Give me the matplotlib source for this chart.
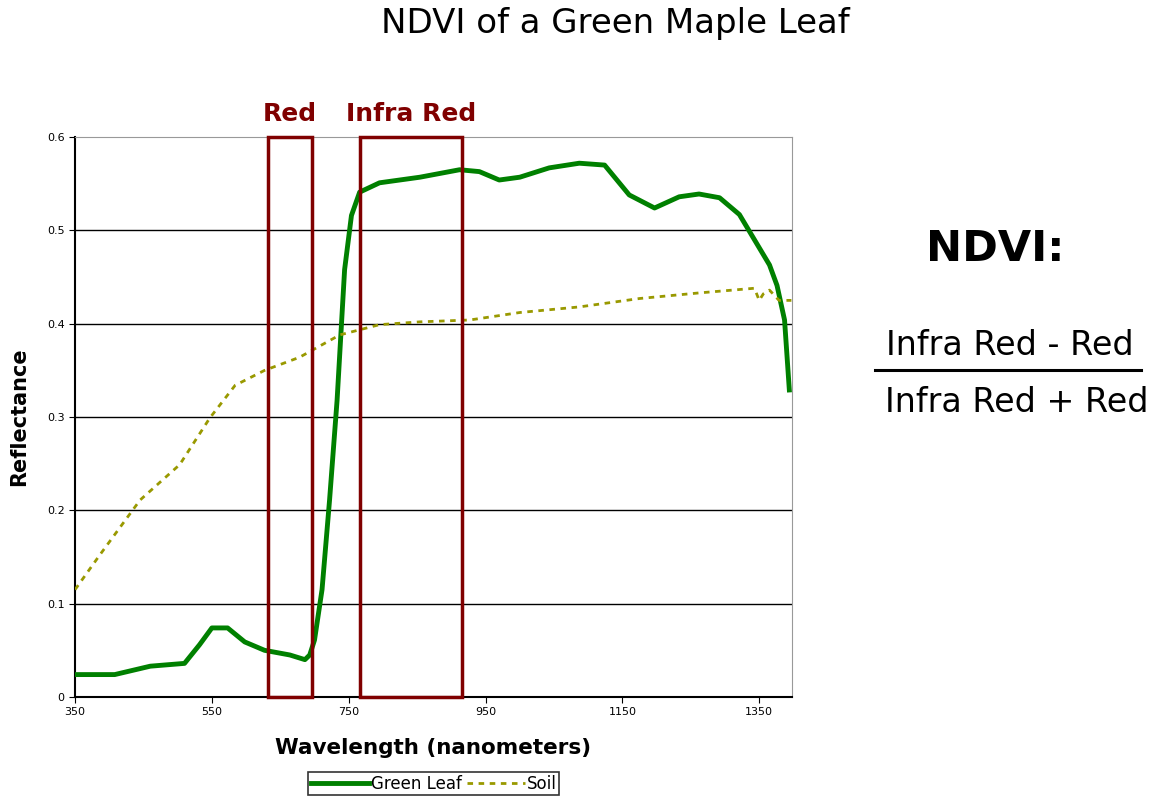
import matplotlib.pyplot as plt
import numpy as np

# leaf reflectance
leaf_nm = [350, 408, 460, 510, 532, 550, 573, 598, 627, 664, 686, 693, 700, 711, 722, 733,
           744, 754, 766, 795, 854, 912, 941, 970, 1000, 1043, 1087, 1124, 1160, 1197, 1233,
           1262, 1292, 1321, 1343, 1365, 1376, 1387, 1394]
leaf_refl = [0.024, 0.024, 0.033, 0.036, 0.056, 0.074, 0.074, 0.059, 0.050, 0.045, 0.040, 0.045,
             0.061, 0.115, 0.211, 0.318, 0.458, 0.516, 0.541, 0.551, 0.557, 0.565, 0.563, 0.554,
             0.557, 0.567, 0.572, 0.570, 0.538, 0.524, 0.536, 0.539, 0.535, 0.517, 0.490, 0.463,
             0.441, 0.404, 0.329]

soil_nm = [350, 386, 445, 503, 547, 584, 627, 678, 737, 795, 854, 927, 1000, 1087, 1175, 1262,
           1343, 1350, 1356, 1365, 1379, 1397]
soil_refl = [0.115, 0.152, 0.211, 0.249, 0.299, 0.334, 0.350, 0.364, 0.388, 0.399, 0.402, 0.404,
             0.412, 0.418, 0.427, 0.433, 0.438, 0.425, 0.432, 0.436, 0.425, 0.425]

red_band = (632, 696)
ir_band = (766, 916)
xticks = [350, 550, 750, 950, 1150, 1350]
yticks = [0, 0.1, 0.2, 0.3, 0.4, 0.5, 0.6]
ytick_labels = ['0', '0.1', '0.2', '0.3', '0.4', '0.5', '0.6']

box_col = '#800000'

fig = plt.figure(figsize=(11.58, 7.97), dpi=100)
ax = fig.add_axes([0.0648, 0.1255, 0.6192, 0.7025])

ax.plot(leaf_nm, leaf_refl, color='#008000', lw=3.5, label='Green Leaf', zorder=3)
ax.plot(soil_nm, soil_refl, color='#999900', lw=2, ls=(0, (2, 2)), label='Soil', zorder=3)

for lo, hi in [red_band, ir_band]:
    ax.add_patch(plt.Rectangle((lo, 0), hi - lo, 0.6, fill=False, ec=box_col, lw=2.5,
                               zorder=4, clip_on=False))

ax.set_xlim(350, 1398)
ax.set_ylim(0, 0.6)
ax.set_xticks(xticks)
ax.set_yticks(yticks)
ax.set_yticklabels(ytick_labels)
ax.tick_params(labelsize=8, direction='out', length=4)
for y in yticks[1:-1]:
    ax.axhline(y, color='black', lw=1, zorder=1)
ax.spines['top'].set_color('#999999')
ax.spines['right'].set_color('#999999')
ax.spines['left'].set_linewidth(1.5)
ax.spines['bottom'].set_linewidth(1.5)

ax.set_xlabel('Wavelength (nanometers)', fontsize=15.5, fontweight='bold', labelpad=15)
ax.set_ylabel('Reflectance', fontsize=15, fontweight='bold', labelpad=13)

ax.text(np.mean(red_band), 0.612, 'Red', color=box_col, fontsize=18, fontweight='bold',
        ha='center', va='bottom')
ax.text(np.mean(ir_band), 0.612, 'Infra Red', color=box_col, fontsize=18, fontweight='bold',
        ha='center', va='bottom')

leg = ax.legend(loc='upper center', bbox_to_anchor=(0.5, -0.12), ncol=2, frameon=True,
                fancybox=False, edgecolor='black', fontsize=12, handlelength=3.5,
                columnspacing=0.3, handletextpad=0.1, borderpad=0.15)
leg.get_frame().set_linewidth(1.2)

fig.text(0.531, 0.97, 'NDVI of a Green Maple Leaf', fontsize=24.5, ha='center', va='center')
fig.text(0.859, 0.688, 'NDVI:', fontsize=31, fontweight='bold', ha='center', va='center')
fig.text(0.872, 0.566, 'Infra Red - Red', fontsize=24, ha='center', va='center')
fig.add_artist(plt.Line2D([0.756, 0.985], [0.536, 0.536], color='black', lw=2.2))
fig.text(0.878, 0.495, 'Infra Red + Red', fontsize=24, ha='center', va='center')

fig.savefig('out.png', dpi=100)
